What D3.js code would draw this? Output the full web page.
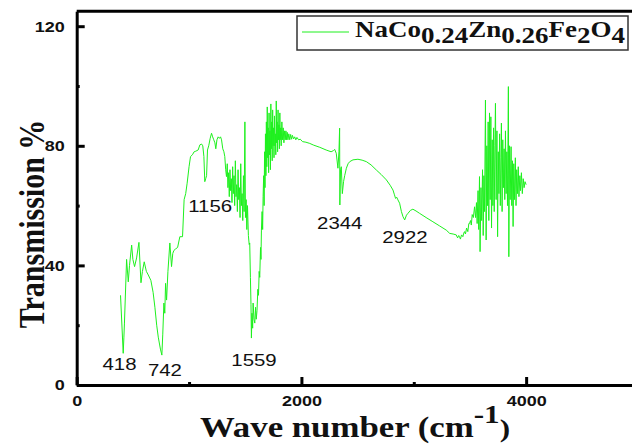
<!DOCTYPE html>
<html>
<head>
<meta charset="utf-8">
<script src="https://cdn.jsdelivr.net/npm/d3@7"></script>
<style>
  body { margin: 0; background: #fff; }
  svg { display: block; }
</style>
</head>
<body>
<svg id="chart"></svg>
<script>
// FTIR spectrum as [wavenumber cm-1, transmission %]
const band1 = [[390,30],[414,10.6],[420,16],[425,20.7],[444,42],[459,34.5],[470,40],[489,46.8],[500,42],[515,39.6],
  [533,42.5],[554,47.7],[572,34.2],[585,38],[601,41.2],[620,38],[637,36.8],[660,35],[680,31],[696,26],[712,20],
  [726,16],[745,12],[758,10],[766,17],[776,27.4],[784,24],[791,34],[800,28.4],[812,38],[829,47.5],[844,39.6],
  [855,44],[865,45],[880,45.5],[898,46],[918,49.6],[942,49.6],[956,62],[970,64],[983,67.5],[1000,73],[1013,76.4],
  [1030,77],[1045,78],[1060,78.2],[1081,78.6],[1096,80.3],[1111,80.6],[1122,80],[1132,76.4],[1140,68],[1148,69],
  [1156,70],[1164,78.6],[1175,80],[1188,82.5],[1200,84.2],[1210,83],[1220,82],[1230,81],[1238,79],[1248,82],
  [1259,83],[1270,82.5],[1280,83],[1289,82],[1300,79],[1310,78],[1318,76.4]]

const band2 = [[1326,72],[1333,69.7],[1340,74],[1346,66],[1352,71],[1358,63],[1364,72],[1370,65],[1376,69],[1382,61],
  [1388,73],[1394,64],[1400,70],[1406,60],[1412,75],[1418,63],[1424,67],[1430,58],[1436,72],[1442,62],[1448,66],
  [1454,56],[1460,74],[1466,60],[1472,64],[1478,55],[1484,70],[1490,58],[1497,88],[1502,56],[1508,62],[1514,52],
  [1520,60],[1528,50],[1535,47],[1540,47.5],[1546,36],[1551,27],[1555,15.7],[1560,24],[1566,19],[1570,27.4],
  [1578,22],[1585,20.7],[1592,26],[1598,22],[1605,25],[1612,32],[1618,30],[1624,38],[1629,36],[1636,46],[1640,42],
  [1644,51.8],[1650,58],[1655,52],[1659,63]]

const band3 = [[1664,70],[1668,60],[1672,78],[1676,66],[1680,84],[1684,70],[1688,88],[1692,73],[1696,93],[1700,76],
  [1704,86],[1708,71],[1712,91],[1716,77],[1720,85],[1724,72],[1728,94],[1732,79],[1736,88],[1740,75],[1744,92],
  [1748,80],[1752,86],[1756,76],[1760,90],[1764,80],[1768,84],[1772,77],[1776,95],[1780,81],[1784,88],[1788,78],
  [1792,92],[1796,82],[1800,87],[1804,79],[1808,91],[1812,82],[1816,86],[1820,80],[1826,88],[1832,82],[1838,86],
  [1844,81],[1850,85],[1856,82],[1862,85],[1868,82],[1874,84.5],[1880,82],[1888,84],[1896,82],[1904,83.8],
  [1912,82.2],[1920,83.5],[1930,82.3],[1940,83],[1950,82],[1960,82.8],[1975,82],[1990,82.2]]

const band4 = [[2010,81.4],[2040,81.2],[2074,80.8],[2110,80.2],[2163,79.5],[2220,78.6],[2264,78],[2285,78.4],
  [2296,78.8],[2310,77.5],[2325,72.5],[2334,78],[2340,85.9],[2342,60.2],[2348,72],[2355,73],[2364,64],[2375,68],
  [2385,70],[2400,72.5],[2415,74],[2430,74.7],[2459,75.3],[2503,75.5],[2540,75.2],[2578,74.7],[2620,73.6],
  [2667,71.9],[2710,70.4],[2756,68.6],[2790,66.8],[2815,65.2],[2828,63.6],[2838,62.4],[2848,62.8],[2859,61.9],
  [2874,60.8],[2890,58],[2904,56.3],[2919,55.2],[2935,56.8],[2948,57.4],[2970,58.4],[2992,58.8],[3020,58.2],
  [3052,57.4],[3110,56],[3170,54.6],[3230,53.2],[3289,51.8],[3320,50.7],[3350,50.5],[3378,50.2],[3390,49.2],
  [3400,50],[3407,49.6],[3415,48.8],[3425,50.2],[3437,49.6],[3445,50.8],[3452,51.3],[3460,50.5],[3470,52.5],
  [3481,51.3],[3490,54],[3496,54],[3505,55],[3512,53.5],[3520,57],[3530,56]]

const band5 = [[3541,59.6],[3550,56],[3558,61],[3564,54],[3572,65],[3578,52],[3585,69.7],[3590,44.6],[3598,66],
  [3604,55],[3612,72],[3618,50],[3624,70],[3630,58],[3638,95.3],[3644,48.5],[3650,80],[3656,60],[3662,88],
  [3668,55],[3674,91],[3680,62],[3686,89.7],[3692,52.5],[3698,82],[3704,60],[3710,86],[3716,58],[3722,80],
  [3727,94.2],[3733,62],[3740,85],[3746,49.6],[3752,78],[3758,64],[3764,84],[3770,60],[3776,76],[3780,87.6],
  [3786,58],[3792,82],[3798,66],[3804,79],[3810,62],[3816,85],[3822,64],[3828,78],[3834,60],[3842,99.8],
  [3846,42.9],[3852,80],[3858,62],[3866,79.7],[3872,60],[3878,75],[3884,53],[3890,74],[3896,62],[3904,76],
  [3910,60],[3916,72],[3923,64],[3930,73],[3936,63],[3944,70],[3950,65],[3958,71],[3966,64],[3974,69],
  [3982,66],[3990,68],[4000,67]]

// peak annotations: label, wavenumber of label centre, transmission at label baseline
const peakLabels = ['418', '742', '1156', '1559', '2344', '2922']
const peakWn = [381, 785, 1188, 1578, 2341, 2921]
const peakT = [5.0, 3.0, 57.9, 6.4, 52.2, 47.5]

const xMajor = [0, 2000, 4000]
const xMinor = [1000, 3000]
const yMajor = [0, 40, 80, 120]
const yMinor = [20, 60, 100]

const seriesName = ['NaCo', '0.24', 'Zn', '0.26', 'Fe', '2', 'O', '4'] // odd entries are subscripts

const width = 632
const height = 445
const lime = '#1ef01e'

const svg = d3.select('#chart').attr('width', width).attr('height', height)

const x = d3.scaleLinear().domain([0, 5000]).range([76.7, 638.5])
const y = d3.scaleLinear().domain([0, 125]).range([385, 11.25])

const spectrum = [...band1, ...band2, ...band3, ...band4, ...band5]

const line = d3.line().x(d => x(d[0])).y(d => y(d[1]))

svg.append('path')
  .datum(spectrum)
  .attr('d', line)
  .attr('fill', 'none')
  .attr('stroke', lime)
  .attr('stroke-width', 1)
  .attr('stroke-linejoin', 'round')

// axes
const xAxis = svg.append('g')
  .attr('transform', `translate(0,${y(0)})`)
  .call(d3.axisBottom(x).tickValues(xMajor).tickFormat(d3.format('d')).tickSize(-8).tickSizeOuter(0).tickPadding(10))

const yAxis = svg.append('g')
  .attr('transform', `translate(${x(0)},0)`)
  .call(d3.axisLeft(y).tickValues(yMajor).tickFormat(d3.format('d')).tickSize(-8).tickSizeOuter(0).tickPadding(10))

svg.append('g')
  .attr('transform', `translate(0,${y(0)})`)
  .call(d3.axisBottom(x).tickValues(xMinor).tickSize(-3).tickFormat(''))
  .call(g => g.select('.domain').remove())

svg.append('g')
  .attr('transform', `translate(${x(0)},0)`)
  .call(d3.axisLeft(y).tickValues(yMinor).tickSize(-3).tickFormat(''))
  .call(g => g.select('.domain').remove())

svg.selectAll('.domain').attr('stroke', '#000').attr('stroke-width', 3)
svg.selectAll('.tick line').attr('stroke', '#000').attr('stroke-width', 3)

svg.selectAll('.tick text')
  .attr('font-family', '"Liberation Sans", Arial, sans-serif')
  .attr('font-size', 15)
  .attr('font-weight', 'bold')
  .attr('fill', '#111')

xAxis.selectAll('.tick text').attr('transform', 'scale(1.2,1)')
yAxis.selectAll('.tick text').attr('transform', 'scale(1.2,1)')

// top frame line
svg.append('line')
  .attr('x1', x(0)).attr('x2', width)
  .attr('y1', y(125)).attr('y2', y(125))
  .attr('stroke', '#000').attr('stroke-width', 3)

// peak labels
peakLabels.forEach((lab, i) => {
  svg.append('text')
    .attr('transform', `translate(${x(peakWn[i])},${y(peakT[i])}) scale(1.2,1)`)
    .attr('text-anchor', 'middle')
    .attr('font-family', '"Liberation Sans", Arial, sans-serif')
    .attr('font-size', 17)
    .attr('fill', '#111')
    .text(lab)
})

// axis titles
svg.append('text')
  .attr('transform', 'translate(44,224) scale(1.2,1) rotate(-90)')
  .attr('text-anchor', 'middle')
  .attr('font-family', '"Liberation Serif", "Times New Roman", serif')
  .attr('font-weight', 'bold')
  .attr('font-size', 30)
  .attr('fill', '#111')
  .text('Transmission %')

const xTitle = svg.append('text')
  .attr('transform', 'translate(200,437) scale(1.2,1)')
  .attr('font-family', '"Liberation Serif", "Times New Roman", serif')
  .attr('font-weight', 'bold')
  .attr('font-size', 29)
  .attr('fill', '#111')
xTitle.append('tspan').text('Wave number (cm')
xTitle.append('tspan').attr('dy', -14).attr('font-size', 26).text('-1')
xTitle.append('tspan').attr('dy', 14).attr('font-size', 26).text(')')

// legend
svg.append('rect')
  .attr('x', 297).attr('y', 16).attr('width', 331).attr('height', 34)
  .attr('fill', '#fff').attr('stroke', '#333').attr('stroke-width', 1.5)
svg.append('line')
  .attr('x1', 302).attr('x2', 349).attr('y1', 32).attr('y2', 32)
  .attr('stroke', lime).attr('stroke-width', 1)
const legendText = svg.append('text')
  .attr('transform', 'translate(355,37) scale(1.2,1)')
  .attr('font-family', '"Liberation Serif", "Times New Roman", serif')
  .attr('font-weight', 'bold')
  .attr('font-size', 22.5)
  .attr('fill', '#111')
seriesName.forEach((part, i) => {
  legendText.append('tspan')
    .attr('dy', i === 0 ? 0 : (i % 2 ? 6 : -6))
    .text(part)
})
</script>
</body>
</html>
